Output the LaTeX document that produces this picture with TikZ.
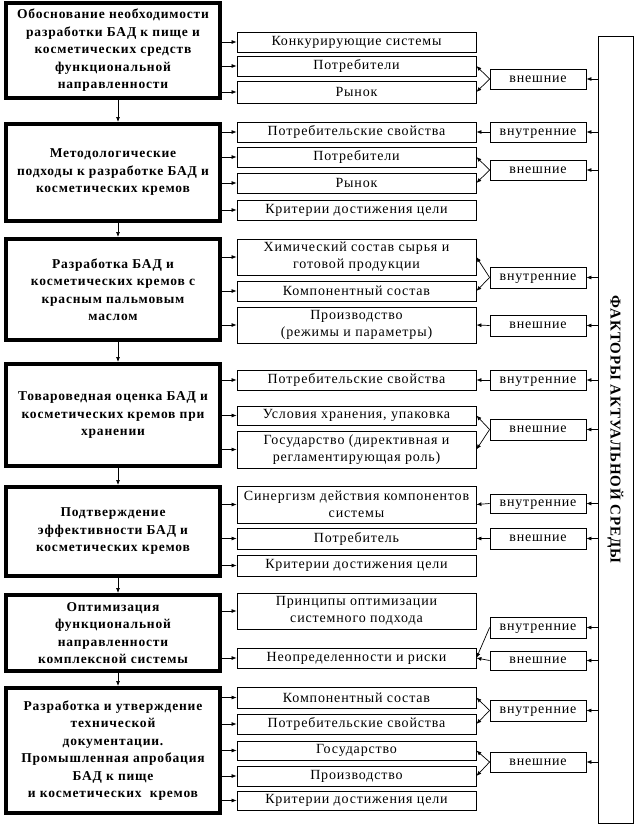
\documentclass[tikz,border=0pt]{standalone}
\usepackage{fontspec}
\setmainfont{Liberation Serif}[LetterSpace=6]
\usetikzlibrary{arrows.meta,calc}
\begin{document}
\begin{tikzpicture}[x=1pt,y=-1pt,
  lbox/.style={draw, line width=4pt, minimum width=214pt, align=center, inner sep=0pt, font=\bfseries\fontsize{13.5}{17.5}\selectfont},
  mbox/.style={draw, line width=0.8pt, minimum width=239pt, align=center, inner sep=0pt, font=\fontsize{14}{17}\selectfont},
  sbox/.style={draw, line width=0.8pt, minimum width=96pt, inner sep=0pt, text height=7pt, text depth=1pt, font=\fontsize{14}{17}\selectfont},
  fbox/.style={draw, line width=0.8pt, minimum width=35pt, minimum height=787pt, inner sep=0pt},
  ftext/.style={rotate=-90, font=\bfseries\fontsize{15}{18}\selectfont, inner sep=0pt},
  arr/.style={-{Latex[length=5pt,width=4pt]}, line width=0.7pt}]
\useasboundingbox (0,0) rectangle (635,827);
% left boxes
\node[lbox, minimum height=95pt] (L1) at (113,50.5) {Обоснование необходимости\\разработки БАД к пище и\\косметических средств\\функциональной\\направленности};
\node[lbox, minimum height=97pt] (L2) at (113,172.5) {Методологические\\подходы к разработке БАД и\\косметических кремов};
\node[lbox, minimum height=101pt] (L3) at (113,289.5) {Разработка БАД и\\косметических кремов с\\красным пальмовым\\маслом};
\node[lbox, minimum height=102pt] (L4) at (113,415) {Товароведная оценка БАД и\\косметических кремов при\\хранении};
\node[lbox, minimum height=89pt] (L5) at (113,531.5) {Подтверждение\\эффективности БАД и\\косметических кремов};
\node[lbox, minimum height=76pt] (L6) at (113,633) {Оптимизация\\функциональной\\направленности\\комплексной системы};
\node[lbox, minimum height=125pt] (L7) at (113,750.5) {Разработка и утверждение\\технической\\документации.\\Промышленная апробация\\БАД к пище\\и косметических\ \ кремов};
% middle boxes
\node[mbox, minimum height=20pt] (m11) at (356.5,42) {Конкурирующие системы};
\node[mbox, minimum height=20pt] (m12) at (356.5,66) {Потребители};
\node[mbox, minimum height=22pt] (m13) at (356.5,92) {Рынок};
\node[mbox, minimum height=20pt] (m21) at (356.5,132) {Потребительские свойства};
\node[mbox, minimum height=20pt] (m22) at (356.5,157) {Потребители};
\node[mbox, minimum height=20pt] (m23) at (356.5,183) {Рынок};
\node[mbox, minimum height=20pt] (m24) at (356.5,210) {Критерии достижения цели};
\node[mbox, minimum height=36pt] (m31) at (356.5,257) {Химический состав сырья и\\готовой продукции};
\node[mbox, minimum height=20pt] (m32) at (356.5,291) {Компонентный состав};
\node[mbox, minimum height=36pt] (m33) at (356.5,325) {Производство\\(режимы и параметры)};
\node[mbox, minimum height=20pt] (m41) at (356.5,380) {Потребительские свойства};
\node[mbox, minimum height=19pt] (m42) at (356.5,415.5) {Условия хранения, упаковка};
\node[mbox, minimum height=37pt] (m43) at (356.5,449.5) {Государство (директивная и\\регламентирующая роль)};
\node[mbox, minimum height=37pt] (m51) at (356.5,504.5) {Синергизм действия компонентов\\системы};
\node[mbox, minimum height=21pt] (m52) at (356.5,538.5) {Потребитель};
\node[mbox, minimum height=21pt] (m53) at (356.5,565.5) {Критерии достижения цели};
\node[mbox, minimum height=36pt] (m61) at (356.5,611) {Принципы оптимизации\\системного подхода};
\node[mbox, minimum height=20pt] (m62) at (356.5,658) {Неопределенности и риски};
\node[mbox, minimum height=21pt] (m71) at (356.5,697.5) {Компонентный состав};
\node[mbox, minimum height=20pt] (m72) at (356.5,724) {Потребительские свойства};
\node[mbox, minimum height=19pt] (m73) at (356.5,750.5) {Государство};
\node[mbox, minimum height=20pt] (m74) at (356.5,776) {Производство};
\node[mbox, minimum height=19pt] (m75) at (356.5,800.5) {Критерии достижения цели};
% small boxes
\node[sbox, minimum height=20pt] (s1a) at (538,79) {внешние};
\node[sbox, minimum height=20pt] (s2a) at (538,132) {внутренние};
\node[sbox, minimum height=20pt] (s2b) at (538,170) {внешние};
\node[sbox, minimum height=21pt] (s3a) at (538,277.5) {внутренние};
\node[sbox, minimum height=21pt] (s3b) at (538,325.5) {внешние};
\node[sbox, minimum height=20pt] (s4a) at (538,380) {внутренние};
\node[sbox, minimum height=21pt] (s4b) at (538,429.5) {внешние};
\node[sbox, minimum height=19pt] (s5a) at (538,503.5) {внутренние};
\node[sbox, minimum height=21pt] (s5b) at (538,538.5) {внешние};
\node[sbox, minimum height=21pt] (s6a) at (538,627.5) {внутренние};
\node[sbox, minimum height=19pt] (s6b) at (538,660.5) {внешние};
\node[sbox, minimum height=21pt] (s7a) at (538,710.5) {внутренние};
\node[sbox, minimum height=20pt] (s7b) at (538,762) {внешние};
% factors box
\node[fbox] (F) at (615.5,429.5) {};
\node[ftext] (Ft) at (F.center) {ФАКТОРЫ АКТУАЛЬНОЙ СРЕДЫ};
% down arrows
\foreach \a/\b in {L1/L2,L2/L3,L3/L4,L4/L5,L5/L6,L6/L7}
  \draw[arr] ([xshift=5pt]\a.south) -- ([xshift=5pt]\b.north);
% left to middle
\foreach \l/\m in {L1/m11,L1/m12,L1/m13,L2/m21,L2/m22,L2/m23,L2/m24,L3/m31,L3/m32,L3/m33,L4/m41,L4/m42,L4/m43,L5/m51,L5/m52,L5/m53,L6/m61,L6/m62,L7/m71,L7/m72,L7/m73,L7/m74,L7/m75}
  \draw[arr] (\l.east |- \m.west) -- (\m.west);
% small to middle
\foreach \s/\m in {s1a/m12,s1a/m13,s2a/m21,s2b/m22,s2b/m23,s3a/m31,s3a/m32,s3b/m33,s4a/m41,s4b/m42,s4b/m43,s5a/m51,s5b/m52,s6a/m62,s6b/m62,s7a/m71,s7a/m72,s7b/m73,s7b/m74}
  \draw[arr] (\s.west) -- (\m.east);
% factors to small
\foreach \s in {s1a,s2a,s2b,s3a,s3b,s4a,s4b,s5a,s5b,s6a,s6b,s7a,s7b}
  \draw[arr] (F.west |- \s.east) -- (\s.east);
\end{tikzpicture}
\end{document}
